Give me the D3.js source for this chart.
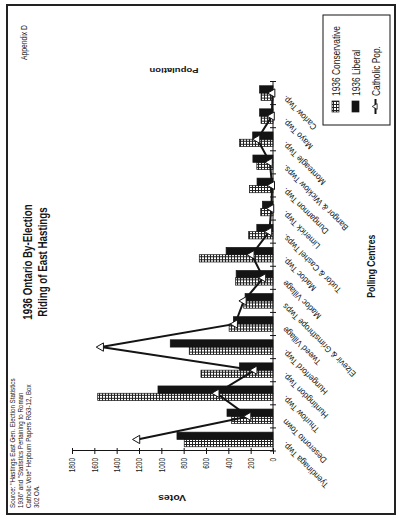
<!DOCTYPE html>
<html><head><meta charset="utf-8">
<script src="https://cdn.jsdelivr.net/npm/d3@7"></script>
<style>
body{margin:0;background:#fff}
svg{display:block}
text{font-family:"Liberation Sans",Arial,sans-serif;fill:#141414}
</style>
</head><body>
<svg id="c" width="399" height="522"></svg>
<script>
// ---------------- data ----------------
const categories = ["Tyendinaga Twp.","Deseronto Town","Thurlow Twp.","Huntingdon Twp.","Hungerford Twp.","Tweed Village","Elzevir & Grimsthrope Twps","Madoc Village","Madoc Twp.","Tudor & Cashel Twps.","Limerick Twp.","Dungannon Twp.","Bangor & Wicklow Twps.","Monteagle Twp.","Mayo Twp.","Carlow Twp."];
const conservative = [795,370,1570,645,750,393,262,335,660,218,110,210,145,300,107,107];
const liberal      = [860,412,1030,300,920,355,250,330,420,145,95,143,180,182,120,120];
const catholicPop  = [1215,220,505,165,1540,340,262,87,191,33,15,8,28,140,10,5];
const valueTicks = [0,200,400,600,800,1000,1200,1400,1600,1800];
const seriesNames = ["1936 Conservative","1936 Liberal","Catholic Pop."];
const titleLines = ["1936 Ontario By-Election","Riding of East Hastings"];
const sourceLines = ['Source: "Hastings East Gen. Election Statistics','1936" and "Statistics Pertaining to Roman','Catholic Vote" Hepburn Papers RG3-12, Box','302 OA.'];
const appendixLabel = "Appendix D";
const yTitle = "Votes", y2Title = "Population", xTitle = "Polling Centres";

// ---------------- drawing ----------------
const W = 399, H = 522;
const svg = d3.select("#c");
const ink = "#141414";

const defs = svg.append("defs");
const pat = defs.append("pattern").attr("id","hatch").attr("patternUnits","userSpaceOnUse").attr("width",3).attr("height",3);
pat.append("rect").attr("width",3).attr("height",3).attr("fill","#fff");
pat.append("rect").attr("width",3).attr("height",1).attr("fill","#222");
pat.append("rect").attr("width",1).attr("height",3).attr("fill","#222");

svg.append("rect").attr("width",W).attr("height",H).attr("fill","#fff");
// page border
svg.append("rect").attr("x",7).attr("y",5).attr("width",388).attr("height",509)
  .attr("fill","none").attr("stroke","#222").attr("stroke-width",2);

// inner (unrotated chart) frame: page is rotated -90deg
const g = svg.append("g").attr("transform",`translate(0,${H}) rotate(-90)`);

const x0 = d3.scaleBand().domain(categories).range([71,440.5]).paddingInner(0).paddingOuter(0);
const bw = x0.bandwidth();
const x1 = d3.scaleBand().domain([0,1]).range([bw/2-7.3, bw/2+7.3]);
const y = d3.scaleLinear().domain([0,1800]).range([273,72]);

// bars
const rows = categories.map((c,i)=>({c, v:[conservative[i], liberal[i]]}));
const grp = g.append("g").selectAll("g").data(rows).join("g")
  .attr("transform", d=>`translate(${x0(d.c)},0)`);
grp.selectAll("rect").data(d=>d.v.map((v,k)=>({k,v}))).join("rect")
  .attr("x", d=>x1(d.k)).attr("width", x1.bandwidth())
  .attr("y", d=>y(d.v)).attr("height", d=>y(0)-y(d.v))
  .attr("fill", d=>d.k===0 ? "url(#hatch)" : ink)
  .attr("stroke", ink).attr("stroke-width",0.7);

// value axis
const yAx = g.append("g").attr("transform",`translate(${x0.range()[0]},0)`)
  .call(d3.axisLeft(y).tickValues(valueTicks).tickFormat(d3.format("d")).tickSize(3).tickSizeOuter(0));
yAx.select(".domain").attr("stroke",ink).attr("stroke-width",1);
yAx.selectAll(".tick line").attr("x1",3).attr("stroke",ink);
yAx.selectAll(".tick text").attr("x",null).attr("dy",null)
  .attr("font-size",9.5).attr("font-family","Liberation Sans, Arial, sans-serif")
  .attr("text-anchor","end").attr("dominant-baseline","central")
  .attr("transform","translate(-7,0) scale(0.68,1)").attr("fill",ink);

// category axis
const ax = g.append("g");
ax.append("line").attr("x1",x0.range()[0]).attr("x2",x0.range()[1]).attr("y1",y(0)).attr("y2",y(0)).attr("stroke",ink);
const bounds = categories.map(c=>x0(c)).concat([x0.range()[1]]);
ax.selectAll("line.t").data(bounds).join("line").attr("class","t")
  .attr("x1",d=>d).attr("x2",d=>d).attr("y1",y(0)-3).attr("y2",y(0)+3).attr("stroke",ink);
ax.selectAll("text").data(categories).join("text")
  .attr("text-anchor","end").attr("font-size",8.7)
  .attr("transform",d=>`translate(${x0(d)+bw/2-2},${y(0)+13}) rotate(-45) scale(0.93,1)`)
  .text(d=>d);

// line series
const cx = i => x0(categories[i]) + bw/2;
g.append("path").datum(catholicPop)
  .attr("d", d3.line().x((d,i)=>cx(i)).y(d=>y(d)))
  .attr("fill","none").attr("stroke",ink).attr("stroke-width",2);
const tri = d3.symbol(d3.symbolTriangle, 30);
g.append("g").selectAll("path").data(catholicPop).join("path")
  .attr("d", tri).attr("transform",(d,i)=>`translate(${cx(i)},${y(d)})`)
  .attr("fill","#fff").attr("stroke",ink).attr("stroke-width",1);

// titles
g.append("g").selectAll("text").data(titleLines).join("text")
  .attr("text-anchor","middle").attr("font-weight","bold").attr("font-size",13)
  .attr("transform",(d,i)=>`translate(260,${32+i*14.5}) scale(0.75,1)`).text(d=>d);
g.append("text").attr("font-size",9).attr("transform","translate(462,27) scale(0.75,1)").text(appendixLabel);
g.append("g").selectAll("text").data(sourceLines).join("text")
  .attr("font-size",8).attr("transform",(d,i)=>`translate(14,${15+i*8}) scale(0.78,1)`).text(d=>d);
g.append("text").attr("text-anchor","middle").attr("font-weight","bold").attr("font-size",10.5)
  .attr("transform","translate(27,172) rotate(-90) scale(1,0.8)").text(yTitle);
g.append("text").attr("text-anchor","middle").attr("font-weight","bold").attr("font-size",9.5)
  .attr("transform","translate(454,174) rotate(-90) scale(1,0.8)").text(y2Title);
g.append("text").attr("text-anchor","middle").attr("font-weight","bold").attr("font-size",11)
  .attr("transform",`translate(${(x0.range()[0]+x0.range()[1])/2},375) scale(0.78,1)`).text(xTitle);

// legend
const lg = g.append("g");
lg.append("rect").attr("x",397).attr("y",323).attr("width",110).attr("height",67)
  .attr("fill","#fff").attr("stroke",ink).attr("stroke-width",1);
const ly = [335.5, 355.5, 375.5];
seriesNames.forEach((s,k)=>{
  if(k<2){
    lg.append("rect").attr("x",410).attr("y",ly[k]-3.5).attr("width",11).attr("height",7)
      .attr("fill", k===0 ? "url(#hatch)" : ink).attr("stroke",ink).attr("stroke-width",0.7);
  } else {
    lg.append("line").attr("x1",408).attr("x2",423).attr("y1",ly[k]).attr("y2",ly[k]).attr("stroke",ink).attr("stroke-width",2);
    lg.append("path").attr("d", d3.symbol(d3.symbolTriangle, 14)).attr("transform",`translate(415.5,${ly[k]})`)
      .attr("fill","#fff").attr("stroke",ink).attr("stroke-width",0.8);
  }
  lg.append("text").attr("font-size",10.5).attr("dominant-baseline","central")
    .attr("transform",`translate(426,${ly[k]+0.5}) scale(0.8,1)`).text(s);
});
</script>
</body></html>
